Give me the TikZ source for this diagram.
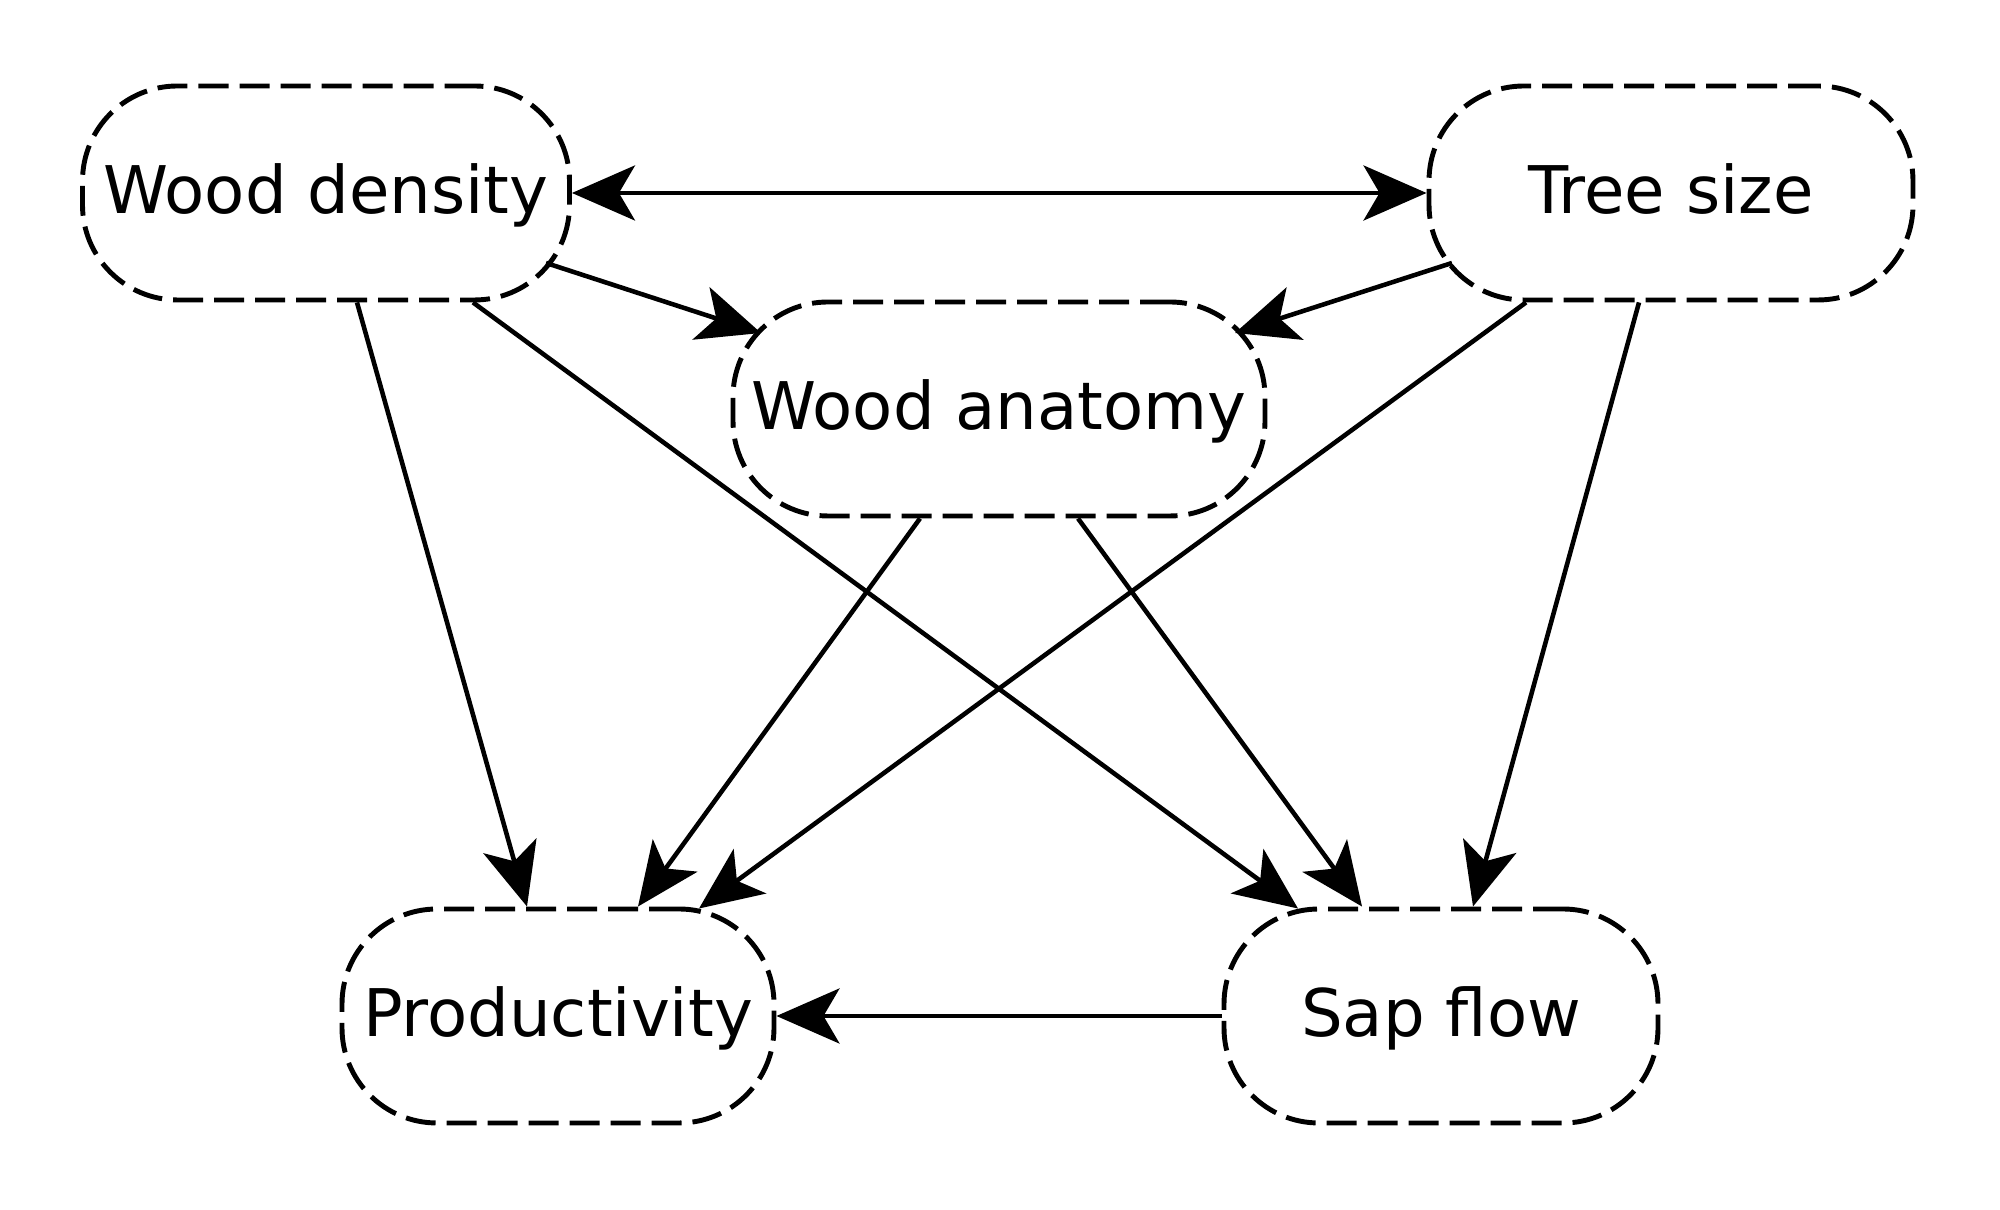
\documentclass[tikz,border=0pt]{standalone}
\usepackage{fontspec}
\setmainfont{DejaVu Sans}
\usetikzlibrary{arrows.meta}

\begin{document}
\begin{tikzpicture}[
  varbox/.style={draw, line width=1.4pt, dash pattern=on 0.30cm off 0.11cm,
    rounded corners=0.95cm, minimum height=2.14cm, inner sep=0pt,
    text height=0.58cm, text depth=0.16cm,
    font=\fontsize{18.7}{21}\selectfont},
  link/.style={line width=1.3pt, -{Stealth[length=0.63cm, width=0.55cm, inset=0.16cm]}}
]
\useasboundingbox (0,0) rectangle (20,12.1);
% variables
\node[varbox, minimum width=4.87cm] (wd) at (3.26,10.17) {Wood density};
\node[varbox, minimum width=4.84cm] (ts) at (16.71,10.17) {Tree size};
\node[varbox, minimum width=5.32cm] (wa) at (9.99,8.01) {Wood anatomy};
\node[varbox, minimum width=4.32cm] (pr) at (5.58,1.94) {Productivity};
\node[varbox, minimum width=4.34cm] (sf) at (14.41,1.94) {Sap flow};
% links
\draw[link, {Stealth[length=0.63cm, width=0.55cm, inset=0.16cm]}-{Stealth[length=0.63cm, width=0.55cm, inset=0.16cm]}] (wd.east) -- (ts.west);
\draw[link] ([shift={(2.20,-0.70)}]wd.center) -- ([shift={(-2.38,0.76)}]wa.center);
\draw[link] ([shift={(-2.19,-0.70)}]ts.center) -- ([shift={(2.36,0.76)}]wa.center);
\draw[link] ([xshift=0.31cm]wd.south) -- ([xshift=-0.31cm]pr.north);
\draw[link] ([xshift=1.47cm]wd.south) -- ([xshift=-1.43cm,yshift=-0.02cm]sf.north);
\draw[link] ([xshift=-0.79cm]wa.south) -- ([xshift=0.80cm]pr.north);
\draw[link] ([xshift=0.79cm]wa.south) -- ([xshift=-0.79cm]sf.north);
\draw[link] ([xshift=-1.45cm]ts.south) -- ([xshift=1.41cm,yshift=-0.02cm]pr.north);
\draw[link] ([xshift=-0.32cm]ts.south) -- ([xshift=0.32cm]sf.north);
\draw[link] (sf.west) -- (pr.east);
\end{tikzpicture}
\end{document}
